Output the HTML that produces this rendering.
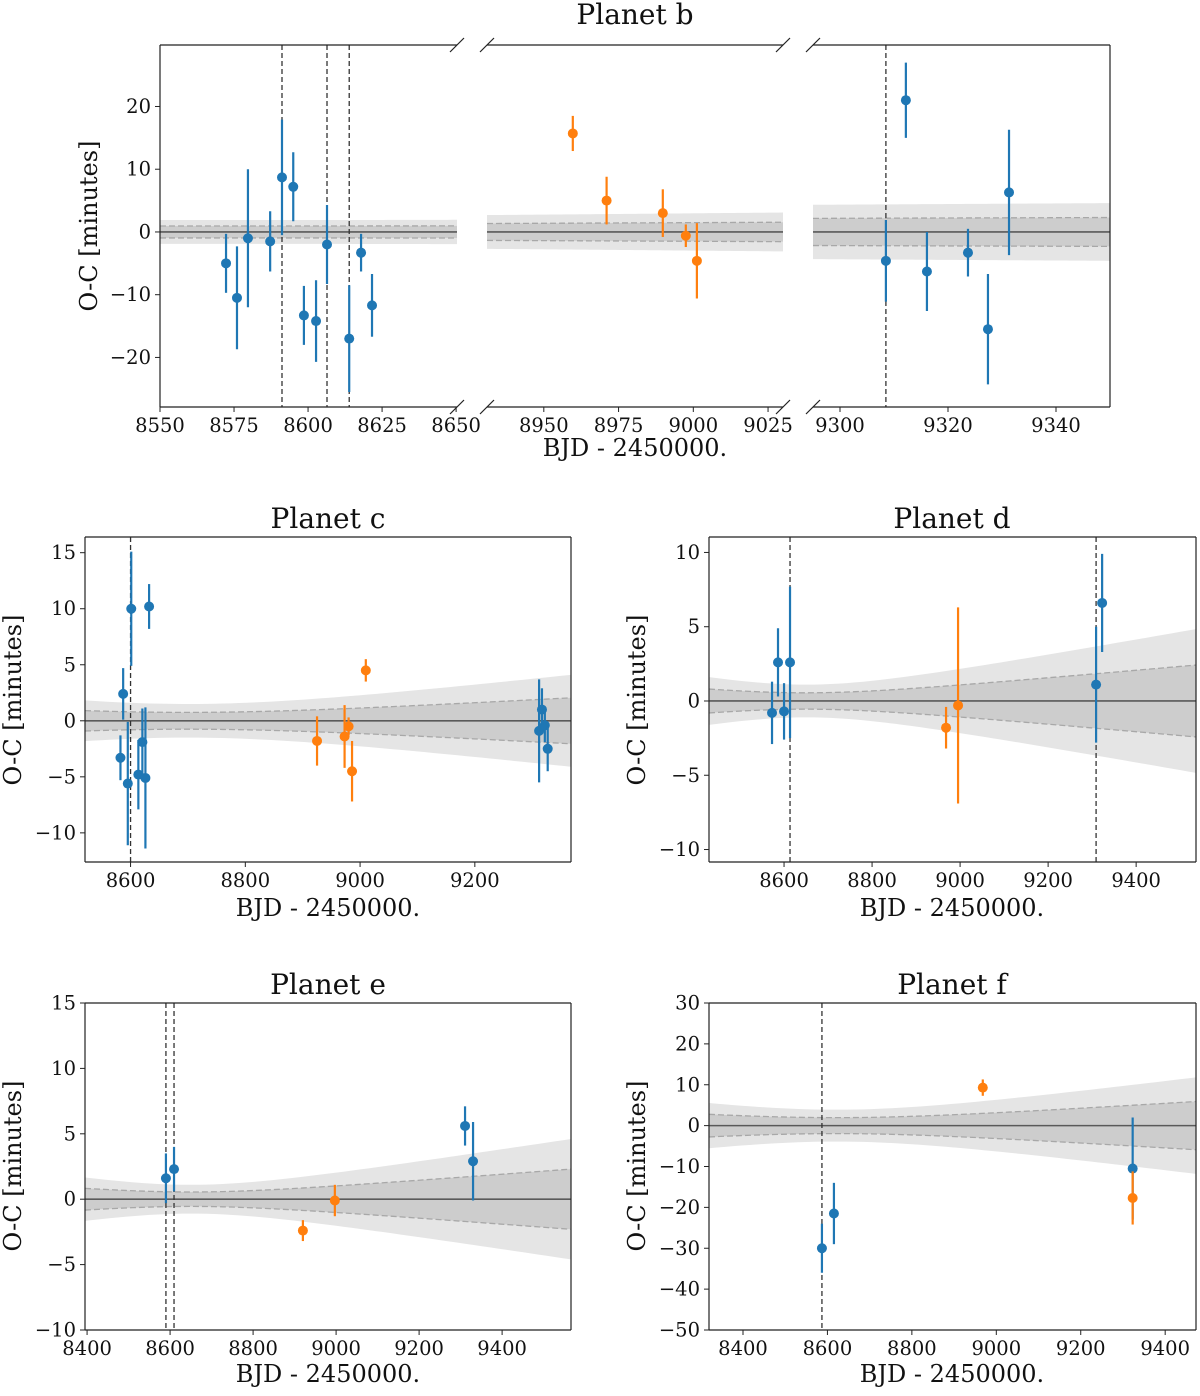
<!DOCTYPE html>
<html><head><meta charset="utf-8">
<style>
body{margin:0;background:#fff;}
svg text{font-family:"DejaVu Serif","Liberation Serif",serif;fill:#111;}
</style></head>
<body>
<svg id="fig" width="1200" height="1391" viewBox="0 0 1200 1391" xmlns="http://www.w3.org/2000/svg"></svg>
<script>
// ---- Planet b data ----
const bBlueT=[8572.3,8576,8579.7,8587.2,8591.2,8595,8598.6,8602.7,8606.4,8613.9,8617.9,8621.6,9308.5,9312.2,9316.1,9323.7,9327.4,9331.3];
const bBlueV=[-5,-10.5,-1,-1.5,8.7,7.2,-13.3,-14.2,-2,-17,-3.3,-11.7,-4.6,21,-6.3,-3.3,-15.5,6.3];
const bBlueE=[4.7,8.2,11,4.8,9.2,5.5,4.7,6.5,6.3,8.5,3,5,6.5,6,6.3,3.8,8.8,10];
const bOrT=[8959.7,8971,8989.8,8997.5,9001.2];
const bOrV=[15.7,5,3,-0.6,-4.6];
const bOrE=[2.8,3.8,3.8,1.8,6];
const bVlines=[8591.2,8606.4,8613.9,9308.5];
// ---- Planet c ----
const cBlueT=[8582.4,8587.1,8595.2,8601.2,8613.6,8620.6,8625.9,8632.3,9312,9317,9322,9327];
const cBlueV=[-3.3,2.4,-5.6,10.0,-4.8,-1.9,-5.1,10.2,-0.9,1.0,-0.4,-2.5];
const cBlueE=[2.0,2.3,5.5,5.1,3.1,3.0,6.3,2.0,4.6,1.9,1.5,2.0];
const cOrT=[8925,8973,8980,8986,9010];
const cOrV=[-1.8,-1.4,-0.5,-4.5,4.5];
const cOrE=[2.2,2.8,0.8,2.7,1.0];
const cVlines=[8600];
// ---- Planet d ----
const dBlueT=[8572.7,8586.3,8600,8613.6,9309,9322.7];
const dBlueV=[-0.8,2.6,-0.7,2.6,1.1,6.6];
const dBlueE=[2.1,2.3,1.9,5.1,3.9,3.3];
const dOrT=[8968.1,8995.4];
const dOrV=[-1.8,-0.3];
const dOrE=[1.4,6.6];
const dVlines=[8613.6,9309];
// ---- Planet e ----
const eBlueT=[8590,8609.5,9310.7,9330];
const eBlueV=[1.6,2.3,5.6,2.9];
const eBlueE=[1.9,1.7,1.5,3.0];
const eOrT=[8920,8997];
const eOrV=[-2.4,-0.1];
const eOrE=[0.8,1.2];
const eVlines=[8590,8609.5];
// ---- Planet f ----
const fBlueT=[8587,8615.4,9323];
const fBlueV=[-30,-21.5,-10.5];
const fBlueE=[6,7.5,12.5];
const fOrT=[8968,9323];
const fOrV=[9.3,-17.7];
const fOrE=[2,6.5];
const fVlines=[8587];
// ---- model uncertainty params: [s0, tc, k] ----
const bModel=[0.95,8580,0.00272];
const cModel=[0.75,8700,0.00286];
const dModel=[0.55,8650,0.00266];
const eModel=[0.55,8650,0.00244];
const fModel=[1.95,8620,0.00653];
// tick labels
const bXticks1=[8550,8575,8600,8625,8650];
const bXticks2=[8950,8975,9000,9025];
const bXticks3=[9300,9320,9340];
const bYticks=[-20,-10,0,10,20];
const cXticks=[8600,8800,9000,9200], cYticks=[-10,-5,0,5,10,15];
const dXticks=[8600,8800,9000,9200,9400], dYticks=[-10,-5,0,5,10];
const eXticks=[8400,8600,8800,9000,9200,9400], eYticks=[-10,-5,0,5,10,15];
const fXticks=[8400,8600,8800,9000,9200,9400], fYticks=[-50,-40,-30,-20,-10,0,10,20,30];

const NS="http://www.w3.org/2000/svg";
const svg=document.getElementById('fig');
function mk(tag,attrs,parent){const e=document.createElementNS(NS,tag);for(const k in attrs)e.setAttribute(k,attrs[k]);(parent||svg).appendChild(e);return e;}
function txt(x,y,s,size,anchor,parent,rot){const t=mk('text',{x:x,y:y,'font-size':size,'text-anchor':anchor||'middle'},parent);if(rot)t.setAttribute('transform','rotate(-90 '+x+' '+y+')');t.textContent=s;return t;}

function axes(name,ax,m,blue,orange,vlines,xticks,yticks,spines){
  const g=mk('g',{});
  
  
  const X=t=>ax.x0+(t-ax.xmin)/(ax.xmax-ax.xmin)*(ax.x1-ax.x0);
  const Y=v=>ax.y1-(v-ax.ymin)/(ax.ymax-ax.ymin)*(ax.y1-ax.y0);
  const cid='clip'+name;
  const cp=mk('clipPath',{id:cid},g);mk('rect',{x:ax.x0,y:ax.y0,width:ax.x1-ax.x0,height:ax.y1-ax.y0},cp);
  const pg=mk('g',{'clip-path':'url(#'+cid+')'},g);
  const sig=t=>Math.sqrt(m[0]*m[0]+Math.pow(m[2]*(t-m[1]),2));
  const N=60;const ts=[];for(let i=0;i<=N;i++)ts.push(ax.xmin+(ax.xmax-ax.xmin)*i/N);
  function band(mult,fill,nm){
    let up=ts.map(t=>X(t)+','+Y(mult*sig(t)));
    let dn=ts.slice().reverse().map(t=>X(t)+','+Y(-mult*sig(t)));
    const p=mk('polygon',{points:up.concat(dn).join(' '),fill:fill},pg);
    
    
  }
  band(2,'#e5e5e5','model-2sigma-band');
  band(1,'#cdcdcd','model-1sigma-band');
  [1,-1].forEach(s=>{mk('polyline',{points:ts.map(t=>X(t)+','+Y(s*sig(t))).join(' '),fill:'none',stroke:'#a8a8a8','stroke-width':1.3,'stroke-dasharray':'6,3'},pg);});
  const zl=mk('line',{x1:ax.x0,x2:ax.x1,y1:Y(0),y2:Y(0),stroke:'#5a5a5a','stroke-width':1.6},pg);
  
  
  vlines.forEach(t=>{const l=mk('line',{x1:X(t),x2:X(t),y1:ax.y0,y2:ax.y1,stroke:'#333','stroke-width':1.3,'stroke-dasharray':'5,3'},pg);
    
    });
  function pts(T,V,E,col,nm){T.forEach((t,i)=>{
    if(t<ax.xmin||t>ax.xmax)return;
    const l=mk('line',{x1:X(t),x2:X(t),y1:Y(V[i]+E[i]),y2:Y(V[i]-E[i]),stroke:col,'stroke-width':2.2},pg);
    
    
    const c=mk('circle',{cx:X(t),cy:Y(V[i]),r:5,fill:col},pg);
    
    
  });}
  pts(blue[0],blue[1],blue[2],'#1f77b4','blue');
  pts(orange[0],orange[1],orange[2],'#ff7f0e','orange');
  const st={stroke:'#222','stroke-width':1.2};
  if(spines.includes('t'))mk('line',Object.assign({x1:ax.x0,x2:ax.x1,y1:ax.y0,y2:ax.y0},st),g);
  if(spines.includes('b'))mk('line',Object.assign({x1:ax.x0,x2:ax.x1,y1:ax.y1,y2:ax.y1},st),g);
  if(spines.includes('l'))mk('line',Object.assign({x1:ax.x0,x2:ax.x0,y1:ax.y0,y2:ax.y1},st),g);
  if(spines.includes('r'))mk('line',Object.assign({x1:ax.x1,x2:ax.x1,y1:ax.y0,y2:ax.y1},st),g);
  xticks.forEach(t=>{const x=X(t);mk('line',{x1:x,x2:x,y1:ax.y1,y2:ax.y1+5,stroke:'#222','stroke-width':1},g);
    const tl=txt(x,ax.y1+25,String(t),19.5,'middle',g);
    
    });
  yticks.forEach(v=>{const y=Y(v);mk('line',{x1:ax.x0-5,x2:ax.x0,y1:y,y2:y,stroke:'#222','stroke-width':1},g);
    const tl=txt(ax.x0-9,y+6.5,(v<0?'\u2212'+(-v):String(v)),19.5,'end',g);
    
    });
  return g;
}
function labels(cx,ty,xly,ylx,yly,title){
  const t=txt(cx,ty,title,28,'middle');
  
  
  const xl=txt(cx,xly,'BJD - 2450000.',24,'middle');
  
  
  const yl=txt(ylx,yly,'O-C [minutes]',24,'middle',null,true);
  
  
}
// Planet b (broken axis)
const bB=[bBlueT,bBlueV,bBlueE], bO=[bOrT,bOrV,bOrE];
const yb={ymin:-27.9,ymax:29.8,y0:45,y1:407};
axes('planet-b-seg1',Object.assign({x0:160,x1:457,xmin:8550,xmax:8650.3},yb),bModel,bB,bO,bVlines,bXticks1,bYticks,'tbl');
axes('planet-b-seg2',Object.assign({x0:487,x1:783,xmin:8931,xmax:9030},yb),bModel,bB,bO,bVlines,bXticks2,[],'tb');
axes('planet-b-seg3',Object.assign({x0:813,x1:1110,xmin:9295,xmax:9350},yb),bModel,bB,bO,bVlines,bXticks3,[],'tbr');
[457,487,783,813].forEach(x=>[45,407].forEach(y=>{const l=mk('line',{x1:x-7,y1:y+7,x2:x+7,y2:y-7,stroke:'#222','stroke-width':1.2});
  
  }));
labels(635,24,456,97,226,'Planet b');
// c
axes('planet-c-axes',{x0:85,x1:571,y0:537,y1:862,xmin:8520.6,xmax:9367.6,ymin:-12.6,ymax:16.4},cModel,[cBlueT,cBlueV,cBlueE],[cOrT,cOrV,cOrE],cVlines,cXticks,cYticks,'tblr');
labels(328,528,916,21,700,'Planet c');
// d
axes('planet-d-axes',{x0:709,x1:1196,y0:537,y1:862,xmin:8429.5,xmax:9536,ymin:-10.84,ymax:11.04},dModel,[dBlueT,dBlueV,dBlueE],[dOrT,dOrV,dOrE],dVlines,dXticks,dYticks,'tblr');
labels(952,528,916,645,700,'Planet d');
// e
axes('planet-e-axes',{x0:85,x1:571,y0:1003,y1:1330,xmin:8395,xmax:9566,ymin:-10,ymax:15},eModel,[eBlueT,eBlueV,eBlueE],[eOrT,eOrV,eOrE],eVlines,eXticks,eYticks,'tblr');
labels(328,994,1382,21,1166,'Planet e');
// f
axes('planet-f-axes',{x0:709,x1:1196,y0:1003,y1:1330,xmin:8319.5,xmax:9473,ymin:-50,ymax:30},fModel,[fBlueT,fBlueV,fBlueE],[fOrT,fOrV,fOrE],fVlines,fXticks,fYticks,'tblr');
labels(952,994,1382,645,1166,'Planet f');
</script>
</body></html>
